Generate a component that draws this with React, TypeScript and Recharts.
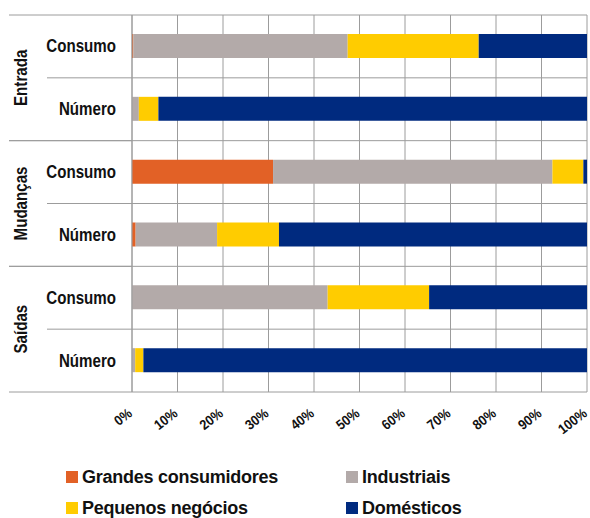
import React from 'react';
import { BarChart, Bar, XAxis, YAxis, CartesianGrid, Legend } from 'recharts';

const groups = ['Entrada', 'Entrada', 'Mudanças', 'Mudanças', 'Saídas', 'Saídas'];
const categories = ['Consumo', 'Número', 'Consumo', 'Número', 'Consumo', 'Número'];

const grandes = [0.3, 0, 31.0, 0.8, 0, 0];
const industriais = [47.1, 1.5, 61.4, 17.9, 43.0, 0.7];
const pequenos = [28.8, 4.3, 6.8, 13.6, 22.3, 1.8];
const domesticos = [23.8, 94.2, 0.8, 67.7, 34.7, 97.5];

const xTicks = [0, 10, 20, 30, 40, 50, 60, 70, 80, 90, 100];

const series = [
    { key: 'grandes', name: 'Grandes consumidores', color: '#E26126' },
    { key: 'industriais', name: 'Industriais', color: '#B3AAA9' },
    { key: 'pequenos', name: 'Pequenos negócios', color: '#FFCC00' },
    { key: 'domesticos', name: 'Domésticos', color: '#002A7F' },
];

const data = categories.map((c, i) => ({
    id: `${groups[i]}-${i}`,
    group: groups[i],
    label: c,
    grandes: grandes[i],
    industriais: industriais[i],
    pequenos: pequenos[i],
    domesticos: domesticos[i],
}));

const W = 590;
const H = 518;
const TOP = 15;
const BOTTOM = 126;
const PLOT_LEFT = 132;
const PLOT_H = H - TOP - BOTTOM;
const FONT = '"Liberation Sans", Arial, sans-serif';
const GRID = '#9c9c9c';
// the source uses a narrow bold face; squeeze the regular one horizontally
const NARROW_X = 0.84;

const CategoryTick = (props: any) => {
    const { y, index } = props;
    const n = data.length;
    const band = PLOT_H / n;
    const top = y - band / 2;
    const first = index === 0 || groups[index] !== groups[index - 1];
    const last = index === n - 1 || groups[index] !== groups[index + 1];
    let groupCount = 0;
    groups.forEach((g) => { if (g === groups[index]) groupCount++; });
    const groupCenter = top + (groupCount * band) / 2;
    return (
        <g>
            <line x1={first ? 9 : 47} x2={PLOT_LEFT} y1={top} y2={top} stroke={GRID} />
            {last && <line x1={9} x2={PLOT_LEFT} y1={top + band} y2={top + band} stroke={GRID} />}
            <text x={0} y={0} textAnchor="end" dominantBaseline="central"
                transform={`translate(116, ${y}) scale(${NARROW_X}, 1)`}
                fontFamily={FONT} fontWeight="bold" fontSize={18} fill="#111">
                {data[index].label}
            </text>
            {first && (
                <text x={0} y={0} textAnchor="middle" dominantBaseline="central"
                    transform={`translate(21, ${groupCenter}) rotate(-90) scale(${NARROW_X}, 1)`}
                    fontFamily={FONT} fontWeight="bold" fontSize={18} fill="#111">
                    {groups[index]}
                </text>
            )}
        </g>
    );
};

const PercentTick = (props: any) => {
    const { x, y, payload } = props;
    const ax = x + 1;
    const ay = y + 15;
    return (
        <text x={0} y={0} textAnchor="end"
            transform={`translate(${ax}, ${ay}) rotate(-38) scale(0.9, 1)`}
            fontFamily={FONT} fontWeight="bold" fontSize={14} fill="#111">
            {`${payload.value}%`}
        </text>
    );
};

const LegendContent = () => (
    <div style={{ position: 'relative', width: W, height: 56, fontFamily: FONT, fontWeight: 'bold', fontSize: 18, letterSpacing: '-0.25px', color: '#111' }}>
        {series.map((s, i) => (
            <div key={s.key} style={{
                position: 'absolute',
                left: i % 2 === 0 ? 66 : 346,
                top: i < 2 ? 0 : 31,
                display: 'flex', alignItems: 'center', whiteSpace: 'nowrap', lineHeight: '22px',
            }}>
                <span style={{ display: 'inline-block', width: 12, height: 12, background: s.color, marginRight: 4 }} />
                {s.name}
            </div>
        ))}
    </div>
);

export default function App() {
    return (
        <div style={{ width: W, height: H }}>
            <style>{'body{margin:0}'}</style>
            <BarChart width={W} height={H} data={data} layout="vertical"
                margin={{ top: TOP, right: 3, bottom: BOTTOM - 40, left: 0 }}>
                <CartesianGrid stroke={GRID}
                    horizontalCoordinatesGenerator={({ offset }: any) =>
                        data.map((_, i) => offset.top + (i * offset.height) / data.length).concat(offset.top + offset.height)}
                />
                <XAxis type="number" domain={[0, 100]} ticks={xTicks} interval={0}
                    axisLine={false} tickLine={false} height={40} tick={<PercentTick />} />
                <YAxis type="category" dataKey="id" width={PLOT_LEFT} axisLine={{ stroke: GRID }}
                    tickLine={false} tick={<CategoryTick />} interval={0} />
                <Legend layout="vertical" align="center" verticalAlign="middle"
                    wrapperStyle={{ position: 'absolute', top: 466, left: 0, width: W }}
                    content={<LegendContent />} />
                {series.map((s) => (
                    <Bar key={s.key} dataKey={s.key} name={s.name} stackId="a" fill={s.color}
                        barSize={24} isAnimationActive={false} />
                ))}
            </BarChart>
        </div>
    );
}
